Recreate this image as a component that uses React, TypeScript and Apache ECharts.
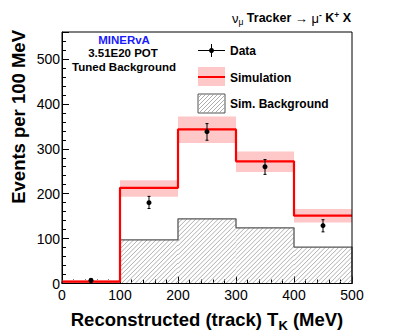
import React, { useEffect, useRef } from "react";
import * as echarts from "echarts";

const binEdges = [0, 100, 200, 300, 400, 500];
const simValues = [4, 213, 343, 272, 151];
const simBandLow = [0, 193, 313, 248, 136];
const simBandHigh = [8, 230, 372, 294, 166];
const bgValues = [4, 97, 144, 124, 81];
const dataX = [50, 150, 250, 350, 450];
const dataY = [7, 180, 338, 260, 129];
const dataErrLow = [3, 167, 319, 243, 115];
const dataErrHigh = [11, 194, 356, 276, 142];
const xTicks = [0, 100, 200, 300, 400, 500];

const PINK = "#ffc8c8";
const RED = "#ff0000";
const FONT = "Liberation Sans, Arial, sans-serif";

function hatch(x0: number, y0: number, x1: number, y1: number, step: number) {
  const segs: number[][] = [];
  const cStart = x0 + y0;
  const cEnd = x1 + y1;
  for (let c = cStart + step; c < cEnd; c += step) {
    const xa = Math.max(x0, c - y1);
    const xb = Math.min(x1, c - y0);
    if (xb > xa) segs.push([xa, c - xa, xb, c - xb]);
  }
  return segs;
}

function stepPoints(values: number[], closeLeft: boolean, closeRight: boolean) {
  const pts: number[][] = [];
  if (closeLeft) pts.push([binEdges[0], 0]);
  for (let i = 0; i < values.length; i++) {
    pts.push([binEdges[i], values[i]]);
    pts.push([binEdges[i + 1], values[i]]);
  }
  if (closeRight) pts.push([binEdges[binEdges.length - 1], 0]);
  return pts;
}

export default function App() {
  const ref = useRef<HTMLDivElement>(null);
  useEffect(() => {
    if (!ref.current) return;
    const chart = echarts.init(ref.current, undefined, { renderer: "svg" });

    const bandData = simValues.map((_, i) => [binEdges[i], binEdges[i + 1], simBandLow[i], simBandHigh[i]]);
    const bgData = bgValues.map((v, i) => [binEdges[i], binEdges[i + 1], v]);
    const ptData = dataX.map((x, i) => [x, dataY[i], dataErrLow[i], dataErrHigh[i]]);

    const legendHatch = hatch(198, 94, 225, 113, 4).map((s) => ({
      type: "line",
      shape: { x1: s[0], y1: s[1], x2: s[2], y2: s[3] },
      style: { stroke: "#999", lineWidth: 0.8 },
      silent: true,
    }));

    const small = (text: string, x: number, y: number, fill = "#000") => ({
      type: "text",
      x,
      y,
      style: { text, fontSize: 11.5, fontWeight: "bold", fontFamily: FONT, fill, align: "center", verticalAlign: "middle" },
    });

    const option: any = {
      animation: false,
      grid: { left: 62, right: 63, top: 32, bottom: 51.5, show: true, borderColor: "#000", borderWidth: 1, backgroundColor: "transparent", z: 10 },
      xAxis: {
        type: "value",
        min: 0,
        max: 500,
        interval: 100,
        axisLine: { show: true, onZero: false, lineStyle: { color: "#000" } },
        axisTick: { show: true, inside: true, length: 7, lineStyle: { color: "#000" } },
        minorTick: { show: true, splitNumber: 5, length: 4, lineStyle: { color: "#000" } },
        splitLine: { show: false },
        axisLabel: { margin: 4, fontSize: 14, color: "#000", fontFamily: FONT, customValues: xTicks },
      },
      yAxis: {
        type: "value",
        min: 0,
        max: 560,
        interval: 100,
        axisLine: { show: true, lineStyle: { color: "#000" } },
        axisTick: { show: true, inside: true, length: 7, lineStyle: { color: "#000" } },
        minorTick: { show: true, splitNumber: 5, length: 4, lineStyle: { color: "#000" } },
        splitLine: { show: false },
        axisLabel: {
          margin: 2,
          fontSize: 14,
          color: "#000",
          fontFamily: FONT,
          formatter: (v: number) => (v % 100 === 0 ? String(v) : ""),
        },
      },
      series: [
        {
          type: "custom",
          name: "band",
          data: bandData,
          encode: { x: [0, 1], y: [2, 3] },
          z: 1,
          renderItem: (params: any, api: any) => {
            const a = api.coord([api.value(0), api.value(3)]);
            const b = api.coord([api.value(1), api.value(2)]);
            return {
              type: "rect",
              shape: { x: a[0], y: a[1], width: b[0] - a[0], height: b[1] - a[1] },
              style: { fill: PINK },
            };
          },
        },
        {
          type: "custom",
          name: "bg",
          data: bgData,
          encode: { x: [0, 1], y: 2 },
          z: 2,
          renderItem: (params: any, api: any) => {
            const a = api.coord([api.value(0), api.value(2)]);
            const b = api.coord([api.value(1), 0]);
            const segs = hatch(a[0], a[1], b[0], b[1], 4.5);
            return {
              type: "group",
              children: segs.map((s) => ({
                type: "line",
                shape: { x1: s[0], y1: s[1], x2: s[2], y2: s[3] },
                style: { stroke: "#9a9a9a", lineWidth: 0.8 },
              })),
            };
          },
        },
        {
          type: "line",
          name: "bgOutline",
          data: stepPoints(bgValues, true, true),
          symbol: "none",
          lineStyle: { color: "#555", width: 1.3 },
          z: 3,
        },
        {
          type: "line",
          name: "sim",
          data: stepPoints(simValues, false, false),
          symbol: "none",
          lineStyle: { color: RED, width: 2.2 },
          z: 4,
        },
        {
          type: "custom",
          name: "data",
          data: ptData,
          encode: { x: 0, y: [1, 2, 3] },
          z: 5,
          renderItem: (params: any, api: any) => {
            const c = api.coord([api.value(0), api.value(1)]);
            const lo = api.coord([api.value(0), api.value(2)]);
            const hi = api.coord([api.value(0), api.value(3)]);
            return {
              type: "group",
              children: [
                { type: "line", shape: { x1: c[0], y1: lo[1], x2: c[0], y2: hi[1] }, style: { stroke: "#000", lineWidth: 1 } },
                { type: "line", shape: { x1: c[0] - 1.5, y1: lo[1], x2: c[0] + 1.5, y2: lo[1] }, style: { stroke: "#000", lineWidth: 1 } },
                { type: "line", shape: { x1: c[0] - 1.5, y1: hi[1], x2: c[0] + 1.5, y2: hi[1] }, style: { stroke: "#000", lineWidth: 1 } },
                { type: "circle", shape: { cx: c[0], cy: c[1], r: 2.5 }, style: { fill: "#000" } },
              ],
            };
          },
        },
      ],
      graphic: [
        {
          type: "text",
          x: 18,
          y: 30,
          rotation: Math.PI / 2,
          style: { text: "Events per 100 MeV", fontSize: 18.5, fontWeight: "bold", fontFamily: FONT, fill: "#000", align: "right", verticalAlign: "middle" },
        },
        {
          type: "text",
          x: 207,
          y: 319,
          style: {
            text: "{b|Reconstructed (track) T}{s|K}{b| (MeV)}",
            align: "center",
            verticalAlign: "middle",
            rich: {
              b: { fontSize: 18.5, fontWeight: "bold", fontFamily: FONT, fill: "#000" },
              s: { fontSize: 13, fontWeight: "bold", fontFamily: FONT, fill: "#000", padding: [12, 0, 0, 0] },
            },
          },
        },
        {
          type: "text",
          x: 351,
          y: 18,
          style: {
            text: "{n|ν}{s|μ}{b| Tracker }{n|→ μ}{sup|-}{b| K}{sup|+}{b| X}",
            align: "right",
            verticalAlign: "middle",
            rich: {
              n: { fontSize: 13, fontFamily: FONT, fill: "#000" },
              s: { fontSize: 8.5, fontFamily: FONT, fill: "#000", padding: [7, 0, 0, 0] },
              b: { fontSize: 12.5, fontWeight: "bold", fontFamily: FONT, fill: "#000" },
              sup: { fontSize: 8.5, fontWeight: "bold", fontFamily: FONT, fill: "#000", padding: [0, 0, 6, 0] },
            },
          },
        },
        small("MINERvA", 124, 40, "#1a1aff"),
        small("3.51E20 POT", 123, 53),
        small("Tuned Background", 124, 66.5),
        // legend: Data
        { type: "line", shape: { x1: 198, y1: 50.5, x2: 225, y2: 50.5 }, style: { stroke: "#000", lineWidth: 1 } },
        { type: "line", shape: { x1: 211.5, y1: 44, x2: 211.5, y2: 57 }, style: { stroke: "#000", lineWidth: 1 } },
        { type: "circle", shape: { cx: 211.5, cy: 50.5, r: 2.5 }, style: { fill: "#000" } },
        { type: "text", x: 230, y: 51, style: { text: "Data", fontSize: 12, fontWeight: "bold", fontFamily: FONT, fill: "#000", verticalAlign: "middle" } },
        // legend: Simulation
        { type: "rect", shape: { x: 198, y: 67, width: 27, height: 19 }, style: { fill: PINK } },
        { type: "line", shape: { x1: 198, y1: 77, x2: 225, y2: 77 }, style: { stroke: RED, lineWidth: 2 } },
        { type: "text", x: 230, y: 77.5, style: { text: "Simulation", fontSize: 12, fontWeight: "bold", fontFamily: FONT, fill: "#000", verticalAlign: "middle" } },
        // legend: Sim. Background
        { type: "rect", shape: { x: 198, y: 94, width: 27, height: 19 }, style: { fill: "#fff", stroke: "#555", lineWidth: 1 } },
        ...legendHatch,
        { type: "text", x: 230, y: 103.5, style: { text: "Sim. Background", fontSize: 12, fontWeight: "bold", fontFamily: FONT, fill: "#000", verticalAlign: "middle" } },
      ],
    };
    chart.setOption(option);
    return () => chart.dispose();
  }, []);
  return <div ref={ref} style={{ width: 415, height: 335, position: "absolute", left: 0, top: 0 }} />;
}
